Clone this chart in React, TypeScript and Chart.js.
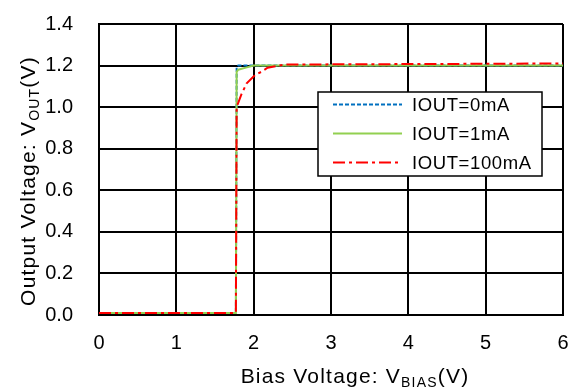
import React, { useEffect, useRef } from "react";
import { Chart, registerables } from "chart.js";
Chart.register(...registerables);

// Bias voltage (V) and output voltage (V) for each load current
const biasV0 = [0, 1.77, 1.78, 1.8, 6];
const vout0 = [0.01, 0.01, 1.19, 1.2, 1.2];
const biasV1 = [0, 1.77, 1.78, 1.8, 1.9, 2.0, 6];
const vout1 = [0.01, 0.01, 1.17, 1.18, 1.19, 1.2, 1.2];
const biasV100 = [0, 1.77, 1.78, 1.84, 1.91, 2.02, 2.1, 2.18, 2.4, 6];
const vout100 = [0.01, 0.01, 1.0, 1.06, 1.115, 1.155, 1.17, 1.19, 1.205, 1.21];

const seriesLabels = ["IOUT=0mA", "IOUT=1mA", "IOUT=100mA"];
const seriesColors = ["#0070C0", "#92D050", "#FF0000"];
const seriesDash = [[4, 2], [], [12, 4, 3, 4]];

const xTitle = ["Bias Voltage: V", "BIAS", "(V)"];
const yTitle = ["Output Voltage: V", "OUT", "(V)"];

const FONT = '"Liberation Sans", Arial, sans-serif';

function toPoints(xs: number[], ys: number[]) {
  return xs.map((x, i) => ({ x, y: ys[i] }));
}

function drawSubText(ctx: CanvasRenderingContext2D, parts: string[], cx: number, baseline: number, size: number, subSize: number) {
  const segs = [
    { t: parts[0], s: size, dy: 0 },
    { t: parts[1], s: subSize, dy: 4 },
    { t: parts[2], s: size, dy: 0 },
  ];
  let total = 0;
  const widths: number[] = [];
  for (const sg of segs) {
    ctx.font = `${sg.s}px ${FONT}`;
    const w = ctx.measureText(sg.t).width;
    widths.push(w);
    total += w;
  }
  let x = cx - total / 2;
  ctx.textAlign = "left";
  ctx.textBaseline = "alphabetic";
  segs.forEach((sg, i) => {
    ctx.font = `${sg.s}px ${FONT}`;
    ctx.fillText(sg.t, x, baseline + sg.dy);
    x += widths[i];
  });
}

const overlayPlugin = {
  id: "overlay",
  afterDraw(chart: any) {
    const ctx: CanvasRenderingContext2D = chart.ctx;
    const area = chart.chartArea;
    ctx.save();
    ctx.fillStyle = "#000";
    (ctx as any).letterSpacing = "1.2px";
    // x title
    drawSubText(ctx, xTitle, (area.left + area.right) / 2 + 24, 383, 21, 14);
    // y title
    ctx.save();
    ctx.translate(35, 181);
    ctx.rotate(-Math.PI / 2);
    drawSubText(ctx, yTitle, 0, 0, 21, 14);
    ctx.restore();

    // legend
    const bx = 318, by = 92, bw = 224, bh = 84;
    ctx.fillStyle = "#fff";
    ctx.fillRect(bx, by, bw, bh);
    ctx.strokeStyle = "#000";
    ctx.lineWidth = 1.5;
    ctx.strokeRect(bx, by, bw, bh);
    const rows = [104.5, 133.5, 162.5];
    (ctx as any).letterSpacing = "0.6px";
    seriesLabels.forEach((lab, i) => {
      ctx.beginPath();
      ctx.strokeStyle = seriesColors[i];
      ctx.lineWidth = 2;
      ctx.setLineDash(seriesDash[i]);
      ctx.moveTo(333, rows[i]);
      ctx.lineTo(402, rows[i]);
      ctx.stroke();
      ctx.setLineDash([]);
      ctx.fillStyle = "#000";
      ctx.font = `18.5px ${FONT}`;
      ctx.textAlign = "left";
      ctx.textBaseline = "middle";
      ctx.fillText(lab, 412, rows[i] + 1);
    });
    (ctx as any).letterSpacing = "0px";
    ctx.restore();
  },
};

export default function App() {
  const ref = useRef<HTMLCanvasElement>(null);
  useEffect(() => {
    if (!ref.current) return;
    const xs = [biasV0, biasV1, biasV100];
    const ys = [vout0, vout1, vout100];
    const chart = new Chart(ref.current, {
      type: "line",
      data: {
        datasets: seriesLabels.map((label, i) => ({
          label,
          data: toPoints(xs[i], ys[i]),
          borderColor: seriesColors[i],
          backgroundColor: seriesColors[i],
          borderWidth: 2,
          borderDash: seriesDash[i],
          pointRadius: 0,
          tension: 0,
          fill: false,
          order: 3 - i,
        })),
      },
      options: {
        animation: false,
        responsive: true,
        maintainAspectRatio: false,
        layout: { padding: { left: 0, top: 24, right: 8, bottom: 0 } },
        plugins: { legend: { display: false }, tooltip: { enabled: false } },
        scales: {
          x: {
            type: "linear",
            min: 0,
            max: 6,
            afterFit: (s: any) => { s.height = 73; s.paddingLeft = 0; s.paddingRight = 0; },
            ticks: { stepSize: 1, color: "#000", padding: 16, font: { family: FONT, size: 20 }, maxRotation: 0 },
            grid: { color: "#000", lineWidth: 2, drawTicks: false },
            border: { display: true, color: "#000", width: 2 },
          },
          y: {
            type: "linear",
            min: 0,
            max: 1.4,
            afterFit: (s: any) => { s.width = 99; s.paddingTop = 0; s.paddingBottom = 0; },
            ticks: { stepSize: 0.2, color: "#000", padding: 26, font: { family: FONT, size: 20 }, callback: (v: any) => Number(v).toFixed(1) },
            grid: { color: "#000", lineWidth: 2, drawTicks: false },
            border: { display: true, color: "#000", width: 2 },
          },
        },
      },
      plugins: [overlayPlugin],
    });
    return () => chart.destroy();
  }, []);
  return (
    <div style={{ position: "absolute", left: 0, top: 0, width: 571, height: 388, background: "#fff" }}>
      <canvas ref={ref} />
    </div>
  );
}
